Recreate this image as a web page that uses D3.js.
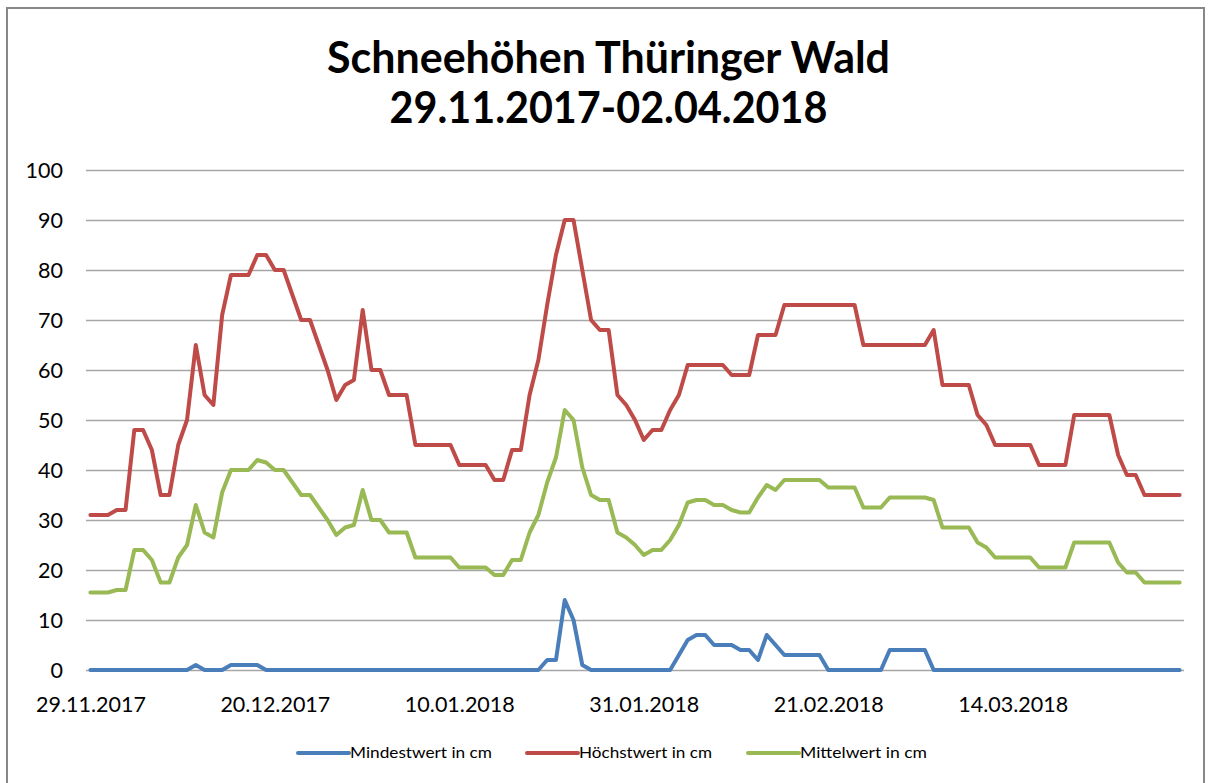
<!DOCTYPE html>
<meta charset="utf-8">
<style>
body { margin: 0; background: #fff; }
text { font-family: Lato, "Open Sans", sans-serif; fill: #000; }
.grid line { stroke: #a6a6a6; stroke-width: 1.5; }
.grid .domain { display: none; }
.axis .domain { display: none; }
.series { fill: none; stroke-width: 4; stroke-linejoin: round; stroke-linecap: round; }
</style>
<body>
<script src="https://cdnjs.cloudflare.com/ajax/libs/d3/7.8.5/d3.min.js"></script>
<script>

// --- data (one value per day, 29.11.2017 .. 02.04.2018) ---
var firstDay = "29.11.2017";
var lastDay  = "02.04.2018";

var minValues = [
  0,0,0,0,0,0,0,0,0,0, 0,0,1,0,0,0,1,1,1,1,
  0,0,0,0,0,0,0,0,0,0, 0,0,0,0,0,0,0,0,0,0,
  0,0,0,0,0,0,0,0,0,0, 0,0,2,2,14,10,1,0,0,0,
  0,0,0,0,0,0,0,3,6,7, 7,5,5,5,4,4,2,7,5,3,
  3,3,3,3,0,0,0,0,0,0, 0,4,4,4,4,4,0,0,0,0,
  0,0,0,0,0,0,0,0,0,0, 0,0,0,0,0,0,0,0,0,0,
  0,0,0,0,0
];

var maxValues = [
  31,31,31,32,32,48,48,44,35,35, 45,50,65,55,53,71,79,79,79,83,
  83,80,80,75,70,70,65,60,54,57, 58,72,60,60,55,55,55,45,45,45,
  45,45,41,41,41,41,38,38,44,44, 55,62,73,83,90,90,80,70,68,68,
  55,53,50,46,48,48,52,55,61,61, 61,61,61,59,59,59,67,67,67,73,
  73,73,73,73,73,73,73,73,65,65, 65,65,65,65,65,65,68,57,57,57,
  57,51,49,45,45,45,45,45,41,41, 41,41,51,51,51,51,51,43,39,39,
  35,35,35,35,35
];

var meanValues = [
  15.5,15.5,15.5,16,16,24,24,22,17.5,17.5, 22.5,25,33,27.5,26.5,35.5,40,40,40,42,
  41.5,40,40,37.5,35,35,32.5,30,27,28.5, 29,36,30,30,27.5,27.5,27.5,22.5,22.5,22.5,
  22.5,22.5,20.5,20.5,20.5,20.5,19,19,22,22, 27.5,31,37.5,42.5,52,50,40.5,35,34,34,
  27.5,26.5,25,23,24,24,26,29,33.5,34, 34,33,33,32,31.5,31.5,34.5,37,36,38,
  38,38,38,38,36.5,36.5,36.5,36.5,32.5,32.5, 32.5,34.5,34.5,34.5,34.5,34.5,34,28.5,28.5,28.5,
  28.5,25.5,24.5,22.5,22.5,22.5,22.5,22.5,20.5,20.5, 20.5,20.5,25.5,25.5,25.5,25.5,25.5,21.5,19.5,19.5,
  17.5,17.5,17.5,17.5,17.5
];

var xTickLabels = ["29.11.2017", "20.12.2017", "10.01.2018", "31.01.2018", "21.02.2018", "14.03.2018"];
var yTicks = [0, 10, 20, 30, 40, 50, 60, 70, 80, 90, 100];
var seriesNames = ["Mindestwert in cm", "Höchstwert in cm", "Mittelwert in cm"];
var seriesColors = ["#4a7ebb", "#be4b48", "#98b954"];
var titleLines = ["Schneehöhen Thüringer Wald", "29.11.2017-02.04.2018"];

// --- drawing ---
var width = 1209, height = 783;
var plot = { left: 86, right: 1184, top: 170, bottom: 670 };

var parse = d3.timeParse("%d.%m.%Y");
var fmt = d3.timeFormat("%d.%m.%Y");
var days = d3.timeDay.range(parse(firstDay), d3.timeDay.offset(parse(lastDay), 1));

var svg = d3.select("body").append("svg")
  .attr("width", width)
  .attr("height", height);

// chart frame
svg.append("rect")
  .attr("x", 7).attr("y", 8)
  .attr("width", 1197).attr("height", 800)
  .attr("fill", "#fff")
  .attr("stroke", "#878787")
  .attr("stroke-width", 2);

var x = d3.scalePoint()
  .domain(days.map(fmt))
  .range([plot.left, plot.right])
  .padding(0.5);

var y = d3.scaleLinear()
  .domain([0, 100])
  .range([plot.bottom, plot.top]);

// gridlines + y labels
var gy = svg.append("g")
  .attr("class", "grid")
  .attr("transform", "translate(" + plot.left + ",0)")
  .call(d3.axisLeft(y)
    .tickValues(yTicks)
    .tickSize(-(plot.right - plot.left))
    .tickPadding(23));
gy.selectAll("text").style("font-size", "21.5px").attr("dy", "0.36em");

// x labels
var gx = svg.append("g")
  .attr("class", "axis")
  .attr("transform", "translate(0," + plot.bottom + ")")
  .call(d3.axisBottom(x)
    .tickValues(xTickLabels)
    .tickSize(0)
    .tickPadding(27));
gx.selectAll("text").style("font-size", "21.5px");

// lines
var series = [minValues, maxValues, meanValues];
var line = d3.line()
  .x(function(d, i) { return x(fmt(days[i])); })
  .y(function(d) { return y(d); });

// draw order as in the picture: min, max, mean
series.forEach(function(vals, k) {
  svg.append("path")
    .datum(vals)
    .attr("class", "series")
    .attr("stroke", seriesColors[k])
    .attr("d", line);
});

// title
var titleY = [73, 123];
var titleW = [563, 438];
titleLines.forEach(function(t, i) {
  svg.append("text")
    .attr("x", 608.5)
    .attr("y", titleY[i])
    .attr("text-anchor", "middle")
    .attr("textLength", titleW[i])
    .attr("lengthAdjust", "spacingAndGlyphs")
    .style("font-size", "44px")
    .style("font-weight", "bold")
    .text(t);
});

// legend
var legendX = [298, 527, 748];
var legendTextW = [142, 133, 127];
var legendY = 753;
var lg = svg.append("g");
seriesNames.forEach(function(name, k) {
  lg.append("line")
    .attr("x1", legendX[k]).attr("x2", legendX[k] + 51)
    .attr("y1", legendY).attr("y2", legendY)
    .attr("stroke", seriesColors[k])
    .attr("stroke-width", 4)
    .attr("stroke-linecap", "round");
  lg.append("text")
    .attr("x", legendX[k] + 52)
    .attr("y", legendY + 5)
    .attr("textLength", legendTextW[k])
    .attr("lengthAdjust", "spacingAndGlyphs")
    .style("font-size", "15px")
    .text(name);
});

</script>
